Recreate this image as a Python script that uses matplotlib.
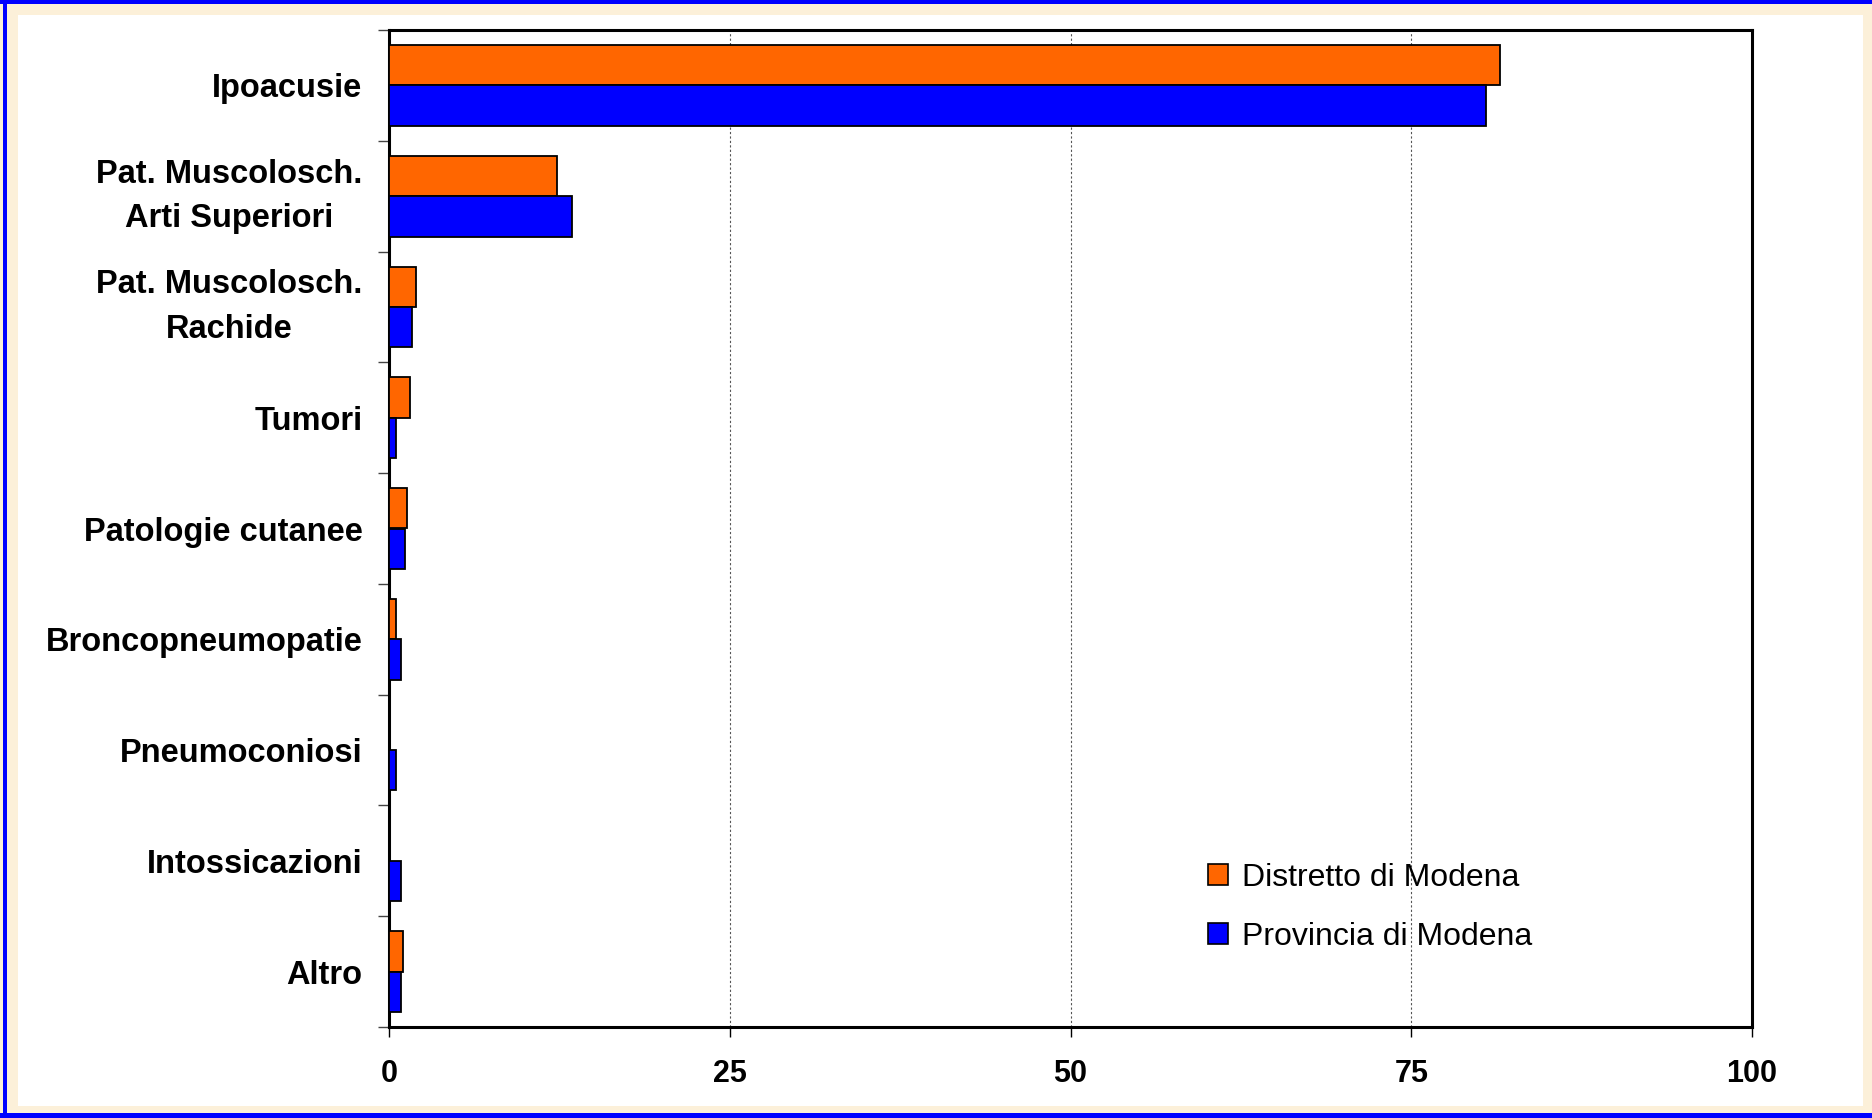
import matplotlib
matplotlib.use("Agg")
import matplotlib.pyplot as plt
from matplotlib.patches import Rectangle, Patch
import numpy as np

plt.rcParams['font.family'] = ['Liberation Sans', 'DejaVu Sans']

# Dati
categorie = ["Ipoacusie", "Pat. Muscolosch.\nArti Superiori", "Pat. Muscolosch.\nRachide",
             "Tumori", "Patologie cutanee", "Broncopneumopatie", "Pneumoconiosi",
             "Intossicazioni", "Altro"]
distretto = [81.5, 12.3, 2.0, 1.55, 1.35, 0.55, 0.0, 0.0, 1.05]
provincia = [80.5, 13.4, 1.7, 0.55, 1.2, 0.9, 0.55, 0.9, 0.9]
xticks = [0, 25, 50, 75, 100]

W, H = 1872, 1118
fig = plt.figure(figsize=(W / 100, H / 100), dpi=100)
fig.patch.set_facecolor('#FCF0D9')

# pannello bianco interno
fig.patches.append(Rectangle((18 / W, 1 - 1106 / H), (1863 - 18) / W, (1106 - 15) / H,
                             transform=fig.transFigure, facecolor='white', edgecolor='none', zorder=-2))
# bordo blu (sinistra, alto, basso)
for (x0, y0, w, hh) in [(3, 0, 4, 1118), (0, 0, 1872, 4), (0, 1113, 1872, 5)]:
    fig.patches.append(Rectangle((x0 / W, 1 - (y0 + hh) / H), w / W, hh / H,
                                 transform=fig.transFigure, facecolor='#0000FF',
                                 edgecolor='none', zorder=-1))

ax = fig.add_axes([389 / W, 1 - 1027 / H, (1752 - 389) / W, (1027 - 30) / H])
ax.set_facecolor('white')

y = np.arange(len(categorie))
h = 0.365
ax.barh(y - h / 2, distretto, height=h, color='#FF6600', edgecolor='black', linewidth=1.3,
        label='Distretto di Modena', zorder=3)
ax.barh(y + h / 2, provincia, height=h, color='#0000FF', edgecolor='black', linewidth=1.3,
        label='Provincia di Modena', zorder=3)

ax.set_xlim(0, 100)
ax.set_ylim(len(categorie) - 0.5, -0.5)

# griglia verticale tratteggiata
for xv in xticks[1:-1]:
    ax.axvline(xv, color='#555555', linestyle=(0, (2, 2)), linewidth=0.8, zorder=1)

ax.set_xticks(xticks)
ax.set_xticklabels([str(v) for v in xticks], fontsize=22, fontweight='bold')
ax.tick_params(axis='x', direction='out', length=7, width=1, pad=16, color='black')

# tacche y ai confini delle categorie, etichette al centro
ax.set_yticks(np.arange(-0.5, len(categorie), 1.0))
ax.set_yticklabels([])
ax.tick_params(axis='y', which='major', direction='out', length=8, width=1, color='#444444')
ax.set_yticks(y, minor=True)
labels = ax.set_yticklabels(categorie, minor=True, fontsize=23.5, fontweight='bold',
                            ha='right', multialignment='center', linespacing=1.55)
for lab in labels:
    if '\n' in lab.get_text():
        lab.set_verticalalignment('center')
ax.tick_params(axis='y', which='minor', length=0, pad=19)

for s in ax.spines.values():
    s.set_linewidth(2.2)
    s.set_color('black')

handles = [Patch(facecolor='#FF6600', edgecolor='black', linewidth=1.2),
           Patch(facecolor='#0000FF', edgecolor='black', linewidth=1.2)]
ax.legend(handles, ['Distretto di Modena', 'Provincia di Modena'], loc='center left',
          bbox_to_anchor=(0.58, 0.12), frameon=False, fontsize=23,
          handlelength=0.62, handleheight=0.62, handletextpad=0.45, labelspacing=0.9)

fig.savefig('out.png', dpi=100, facecolor=fig.get_facecolor())
